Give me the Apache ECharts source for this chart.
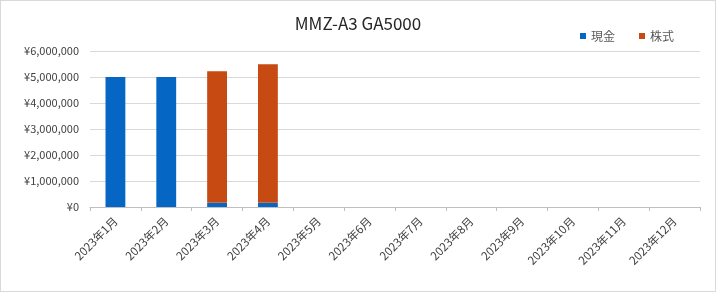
<!DOCTYPE html>
<html><head><meta charset="utf-8">
<script src="https://cdn.jsdelivr.net/npm/echarts@6/dist/echarts.min.js"></script>
<style>html,body{margin:0;padding:0;background:#fff}#c{width:714px;height:290px;border:1px solid #d9d9d9}</style>
</head><body><div id="c"></div>
<script>
const title = 'MMZ-A3 GA5000';
const categories = ['2023年1月','2023年2月','2023年3月','2023年4月','2023年5月','2023年6月','2023年7月','2023年8月','2023年9月','2023年10月','2023年11月','2023年12月'];
const cash = [5000000, 5000000, 160000, 160000, null, null, null, null, null, null, null, null];
const stock = [null, null, 5060000, 5330000, null, null, null, null, null, null, null, null];
const yTicks = [0, 1000000, 2000000, 3000000, 4000000, 5000000, 6000000];

const font = '"Noto Sans CJK JP", "Noto Sans", sans-serif';
const chart = echarts.init(document.getElementById('c'));
chart.setOption({
  animation: false,
  title: { text: title, left: 'center', top: 9, textStyle: { fontFamily: font, fontSize: 17, fontWeight: 'normal', color: '#262626' } },
  legend: { right: 36, top: 24, itemWidth: 6, itemHeight: 6, itemGap: 24, icon: 'rect',
    textStyle: { fontFamily: font, fontSize: 12, color: '#595959' }, data: ['現金', '株式'] },
  grid: { left: 89, right: 15, top: 50, bottom: 84 },
  xAxis: { type: 'category', data: categories,
    axisLine: { lineStyle: { color: '#bfbfbf' } },
    axisTick: { show: true, length: 4, lineStyle: { color: '#bfbfbf' } },
    axisLabel: { rotate: 45, fontFamily: font, fontSize: 11.5, color: '#404040', margin: 12, interval: 0 } },
  yAxis: { type: 'value', min: yTicks[0], max: yTicks[yTicks.length - 1], interval: 1000000,
    axisLine: { show: false }, axisTick: { show: false },
    splitLine: { lineStyle: { color: '#d9d9d9' } },
    axisLabel: { fontFamily: font, fontSize: 11, color: '#404040', margin: 11,
      formatter: v => '¥' + v.toLocaleString('en-US') } },
  series: [
    { name: '現金', type: 'bar', stack: 't', data: cash, barWidth: '39%', itemStyle: { color: '#0566c4' } },
    { name: '株式', type: 'bar', stack: 't', data: stock, barWidth: '39%', itemStyle: { color: '#c64a12' } }
  ]
});
</script></body></html>
